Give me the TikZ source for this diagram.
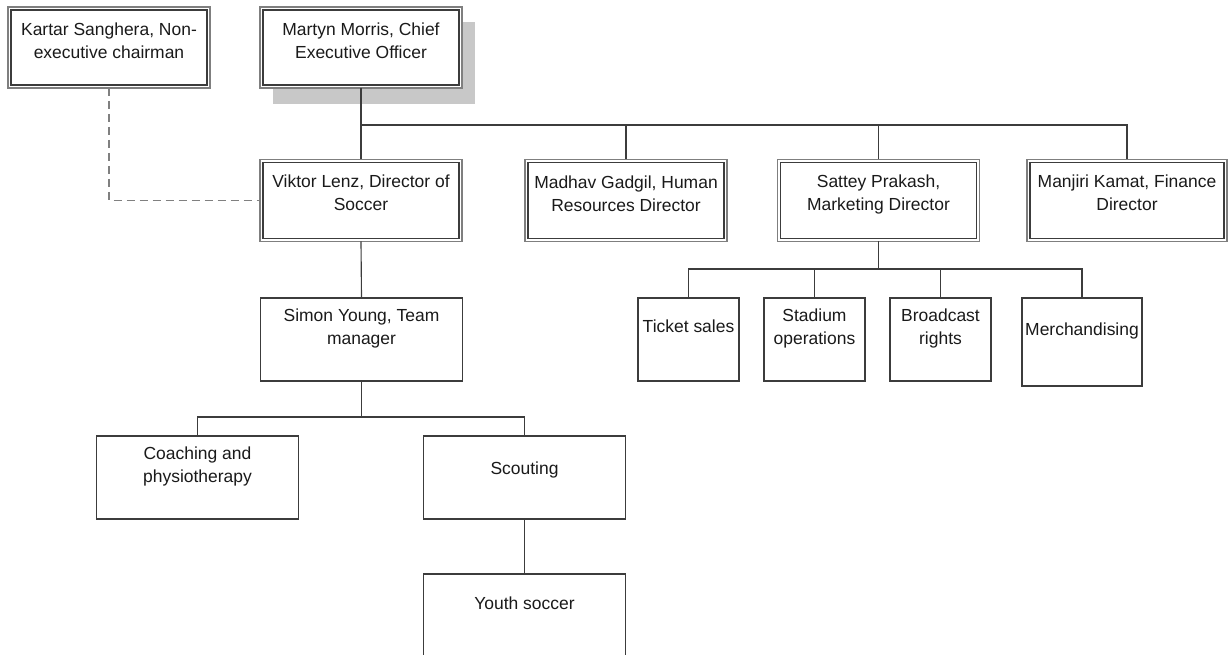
\documentclass[tikz,border=0pt]{standalone}
\usepackage{fontspec}
\setmainfont{Liberation Sans}
\usetikzlibrary{calc}
\definecolor{ln}{HTML}{3C3C3C}
\definecolor{outerc}{HTML}{7F7F7F}
\definecolor{shadec}{HTML}{C8C8C8}
\definecolor{txtc}{HTML}{1A1A1A}
\definecolor{dashc}{HTML}{808080}
\newcommand{\innerframe}[1]{\draw[innerln] ([shift={(3,3)}]#1.north west) rectangle ([shift={(-3,-3)}]#1.south east);}
\begin{document}
\begin{tikzpicture}[x=0.75pt,y=-0.75pt,
  sbox/.style={draw=ln, line width=0.85pt, fill=white, inner sep=0pt, outer sep=0pt, rectangle},
  dbox/.style={draw=outerc, line width=1.1pt, fill=white, inner sep=0pt, outer sep=0pt, rectangle,
               minimum width=151.5pt, minimum height=61.5pt},
  innerln/.style={draw=ln, line width=0.85pt},
  txt/.style={anchor=north, inner sep=0pt, outer sep=0pt, align=center, text=txtc,
              font=\fontsize{13.1}{17}\selectfont},
  conn/.style={draw=ln, line width=0.85pt},
  dashconn/.style={draw=dashc, line width=1.4pt, dash pattern=on 6pt off 3.75pt},
]
\useasboundingbox (0,0) rectangle (1228,655);
\clip (0,0) rectangle (1228,655);

% shadow of CEO box
\fill[shadec] (273,22) rectangle (475,104);

% double-framed boxes
\node[dbox, minimum height=60.75pt] (kartar) at (109,47.5) {};
\node[dbox, minimum height=60.75pt] (martyn) at (361,47.5) {};
\node[dbox] (viktor) at (361,200.5) {};
\node[dbox] (madhav) at (626,200.5) {};
\node[dbox] (sattey) at (878.5,200.5) {};
\node[dbox, minimum width=150pt] (manjiri) at (1127,200.5) {};
\innerframe{kartar}
\innerframe{martyn}
\innerframe{viktor}
\innerframe{madhav}
\innerframe{sattey}
\innerframe{manjiri}

% single-framed boxes
\node[sbox, minimum width=151pt, minimum height=62.25pt] (simon) at (361.5,339.5) {};
\node[sbox, minimum width=151pt, minimum height=62.25pt] (coaching) at (197.5,477.5) {};
\node[sbox, minimum width=151pt, minimum height=62.25pt] (scouting) at (524.5,477.5) {};
\node[sbox, minimum width=151pt, minimum height=62.25pt] (youth) at (524.5,615.5) {};
\node[sbox, minimum width=75.75pt, minimum height=62.25pt] (ticket) at (688.5,339.5) {};
\node[sbox, minimum width=75.75pt, minimum height=62.25pt] (stadium) at (814.5,339.5) {};
\node[sbox, minimum width=75.75pt, minimum height=62.25pt] (broadcast) at (940.5,339.5) {};
\node[sbox, minimum width=90pt, minimum height=66pt] (merch) at (1082,342) {};

% bus coordinates
\coordinate (bus1) at (0,125);
\coordinate (bus2) at (0,417);
\coordinate (bus3) at (0,269);

% connectors
\draw[conn] (martyn.south) -- (viktor.north);
\draw[conn] (martyn.south |- bus1) -| (manjiri.north);
\draw[conn] (madhav.north |- bus1) -- (madhav.north);
\draw[conn] (sattey.north |- bus1) -- (sattey.north);
\draw[dashconn] (kartar.south) |- (viktor.west);
\draw[conn] (viktor.south) -- (simon.north);
\draw[conn] (simon.south) -- (simon.south |- bus2);
\draw[conn] (coaching.north) |- (scouting.north |- bus2) -- (scouting.north);
\draw[conn] (scouting.south) -- (youth.north);
\draw[conn] (sattey.south) -- (sattey.south |- bus3);
\draw[conn] (ticket.north) |- (merch.north |- bus3) -- (merch.north);
\draw[conn] (stadium.north) -- (stadium.north |- bus3);
\draw[conn] (broadcast.north) -- (broadcast.north |- bus3);

% texts
\node[txt] (kartart) at (109,23) {Kartar Sanghera, Non-\\executive chairman};
\node[txt] (martynt) at (361,23) {Martyn Morris, Chief\\Executive Officer};
\node[txt] (viktort) at (361,175) {Viktor Lenz, Director of\\Soccer};
\node[txt] (madhavt) at (626,176) {Madhav Gadgil, Human\\Resources Director};
\node[txt] (satteyt) at (878.5,175) {Sattey Prakash,\\Marketing Director};
\node[txt] (manjirit) at (1127,175) {Manjiri Kamat, Finance\\Director};
\node[txt] (simont) at (361.5,309) {Simon Young, Team\\manager};
\node[txt] (coachingt) at (197.5,447) {Coaching and\\physiotherapy};
\node[txt] (scoutingt) at (524.5,462) {Scouting};
\node[txt] (youtht) at (524.5,597) {Youth soccer};
\node[txt] (tickett) at (688.5,320) {Ticket sales};
\node[txt] (stadiumt) at (814.5,309) {Stadium\\operations};
\node[txt] (broadcastt) at (940.5,309) {Broadcast\\rights};
\node[txt] (mercht) at (1082,323) {Merchandising};
\end{tikzpicture}
\end{document}
